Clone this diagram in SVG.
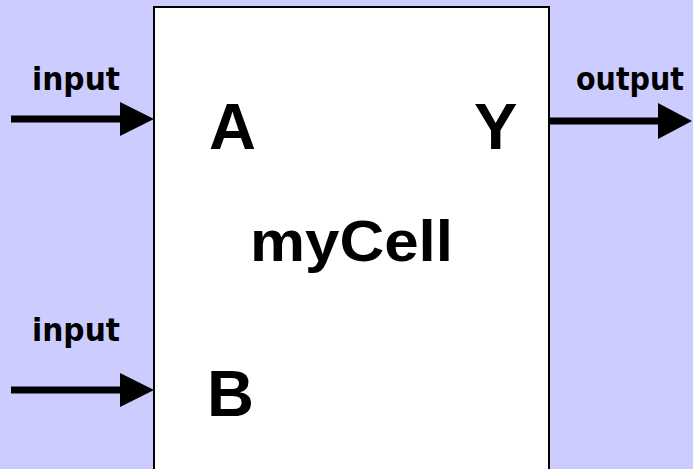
<svg xmlns="http://www.w3.org/2000/svg" width="693" height="469" viewBox="0 0 693 469">
  <defs>
    <style>
      .lbl { font-family: "Liberation Sans", Arial, sans-serif; font-weight: bold; fill: #000; }
      .pin { font-size: 65px; }
      .port { font-family: "DejaVu Sans", Verdana, sans-serif; font-weight: bold; font-size: 32px; fill: #000; }
      .wire { stroke: #000; stroke-width: 7; fill: none; }
      .head { fill: #000; }
    </style>
  </defs>
  <rect width="693" height="469" fill="#ccccff"/>

  <g id="cell">
    <rect x="154" y="7" width="395" height="470" fill="#ffffff" stroke="#000" stroke-width="2"/>
    <text class="lbl pin" x="209" y="149">A</text>
    <text class="lbl pin" x="474" y="149">Y</text>
    <text class="lbl pin" x="207" y="416">B</text>
    <text class="lbl" x="250" y="261" font-size="58" textLength="203" lengthAdjust="spacingAndGlyphs">myCell</text>
  </g>

  <g id="port-labels">
    <text class="port" x="32" y="90" textLength="88" lengthAdjust="spacingAndGlyphs">input</text>
    <text class="port" x="32" y="341" textLength="88" lengthAdjust="spacingAndGlyphs">input</text>
    <text class="port" x="576" y="90" font-size="30" textLength="108" lengthAdjust="spacingAndGlyphs">output</text>
  </g>

  <g id="connectors">
    <line class="wire" x1="11" y1="119" x2="122" y2="119"/>
    <polygon class="head" points="120,102 154,119 120,136"/>
    <line class="wire" x1="11" y1="390" x2="122" y2="390"/>
    <polygon class="head" points="120,373 154,390 120,407"/>
    <line class="wire" x1="549" y1="121" x2="660" y2="121"/>
    <polygon class="head" points="658,103 692,121 658,139"/>
  </g>
</svg>
